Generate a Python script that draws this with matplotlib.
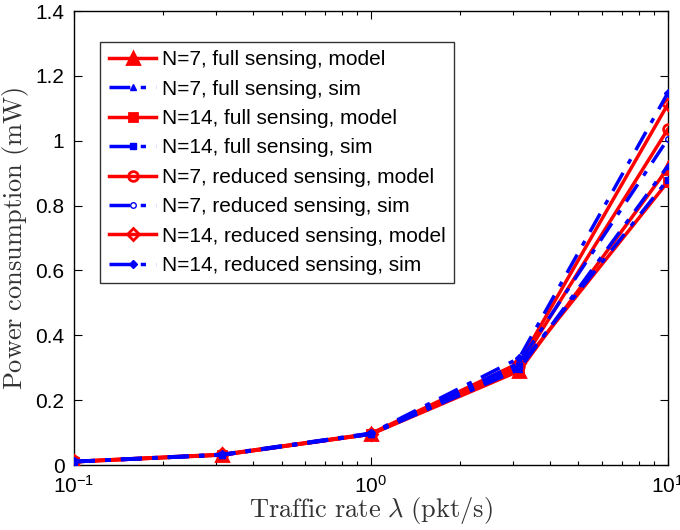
import matplotlib
matplotlib.use("Agg")
import matplotlib.pyplot as plt
from matplotlib.ticker import LogLocator, FixedLocator, NullFormatter

# Traffic rates (pkt/s)
rates = [0.1, 0.316, 1.0, 3.16, 10.0]

# Power consumption (mW)
n7_full_model = [0.010, 0.031, 0.095, 0.290, 0.915]
n7_full_sim = [0.010, 0.031, 0.095, 0.295, 0.922]
n14_full_model = [0.010, 0.031, 0.095, 0.300, 0.873]
n14_full_sim = [0.010, 0.031, 0.096, 0.305, 0.880]
n7_red_model = [0.011, 0.032, 0.096, 0.305, 1.035]
n7_red_sim = [0.011, 0.032, 0.097, 0.315, 1.005]
n14_red_model = [0.011, 0.033, 0.097, 0.315, 1.112]
n14_red_sim = [0.011, 0.033, 0.098, 0.330, 1.147]

labels = [
    "N=7, full sensing, model",
    "N=7, full sensing, sim",
    "N=14, full sensing, model",
    "N=14, full sensing, sim",
    "N=7, reduced sensing, model",
    "N=7, reduced sensing, sim",
    "N=14, reduced sensing, model",
    "N=14, reduced sensing, sim",
]

plt.rcParams["font.family"] = ["Liberation Sans", "DejaVu Sans"]
plt.rcParams["mathtext.fontset"] = "cm"

fig = plt.figure(figsize=(6.8, 5.3), dpi=100)
ax = fig.add_axes([0.109, 0.1226, 0.873, 0.8566])

red = "#ff0000"
blue = "#0000ff"
dashdot = (0, (6, 3, 1.5, 3))

series = [
    (n7_full_model, "model", "^", red, 8),
    (n7_full_sim, "sim", "^", blue, 4),
    (n14_full_model, "model", "s", red, 6),
    (n14_full_sim, "sim", "s", blue, 4),
    (n7_red_model, "model", "o", "none", 7),
    (n7_red_sim, "sim", "o", "none", 4),
    (n14_red_model, "model", "D", "none", 6),
    (n14_red_sim, "sim", "D", blue, 4),
]

for (vals, kind, mk, face, ms), lab in zip(series, labels):
    if kind == "model":
        ax.plot(rates, vals, color=red, lw=2.5, ls="-", marker=mk, ms=ms,
                mfc=face, mec=red, mew=2, label=lab, zorder=3)
    else:
        ax.plot(rates, vals, color=blue, lw=2.5, ls=dashdot, marker=mk,
                ms=ms, mfc=face, mec=blue, mew=1, label=lab, zorder=4)

ax.set_xscale("log")
ax.set_xlim(0.1, 10)
ax.set_ylim(0, 1.4)
ax.set_yticks([0, 0.2, 0.4, 0.6, 0.8, 1.0, 1.2, 1.4])
ax.set_yticklabels(["0", "0.2", "0.4", "0.6", "0.8", "1", "1.2", "1.4"])
ax.xaxis.set_major_locator(FixedLocator([0.1, 1, 10]))
ax.xaxis.set_minor_locator(LogLocator(base=10, subs=range(2, 10)))
ax.xaxis.set_minor_formatter(NullFormatter())

ax.tick_params(which="both", direction="in", top=True, right=True,
               labelsize=15, width=0.8)
ax.tick_params(which="major", length=6, pad=7)
ax.tick_params(which="minor", length=3)
for sp in ax.spines.values():
    sp.set_linewidth(1.0)

ax.set_xlabel(r"$\mathrm{Traffic\ rate\ }\lambda\mathrm{\ (pkt/s)}$",
              fontsize=19, color="#333333", labelpad=-1)
ax.set_ylabel(r"$\mathrm{Power\ consumption\ (mW)}$",
              fontsize=19, color="#333333", labelpad=3)

leg = ax.legend(loc="upper left", bbox_to_anchor=(0.044, 0.932), fontsize=15,
                frameon=True, fancybox=False, edgecolor="black",
                handlelength=2.3, handletextpad=0.25, borderpad=0.4,
                labelspacing=0.5, borderaxespad=0)
leg.get_frame().set_linewidth(1.0)

fig.savefig("out.png", dpi=100)
